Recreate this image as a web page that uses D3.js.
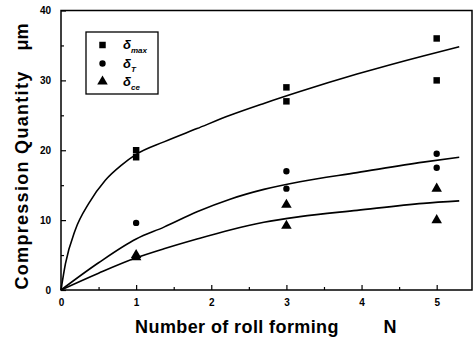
<!DOCTYPE html>
<html>
<head>
<meta charset="utf-8">
<script src="https://cdn.jsdelivr.net/npm/d3@7"></script>
<style>
  body { margin: 0; background: #fff; }
  text { font-family: "Liberation Sans", Arial, sans-serif; font-weight: bold; fill: #000; }
</style>
</head>
<body>
<svg id="chart" width="474" height="341"></svg>
<script>
// measured points
const maxPts = [[1, 20], [1, 19], [3, 29], [3, 27], [5, 36], [5, 30]];
const tPts = [[1, 9.6], [3, 17], [3, 14.5], [5, 19.5], [5, 17.5]];
const cePts = [[1, 5], [1, 4.7], [3, 12.2], [3, 9.2], [5, 14.5], [5, 10]];

// fitted curves
const maxFit = [[0, 0], [0.06, 3.8], [0.19, 8.6], [0.37, 12.4], [0.59, 15.7], [0.81, 17.9], [1, 19.4],
  [1.37, 21.2], [1.81, 23.1], [2.25, 25], [2.7, 26.7], [3.18, 28.4], [3.94, 30.9], [4.82, 33.5], [5.3, 34.8]];
const tFit = [[0, 0], [0.5, 3.9], [1, 7.3], [1.37, 9.0], [1.81, 11.2], [2.25, 13.0], [2.7, 14.4],
  [3.18, 15.5], [3.94, 16.8], [4.82, 18.3], [5.3, 19.0]];
const ceFit = [[0, 0], [0.5, 2.4], [1, 4.6], [1.37, 5.9], [1.81, 7.3], [2.25, 8.6], [2.7, 9.7],
  [3.18, 10.5], [3.94, 11.4], [4.82, 12.4], [5.3, 12.75]];

const xTicks = [0, 1, 2, 3, 4, 5];
const yTicks = [0, 10, 20, 30, 40];

const svg = d3.select('#chart');
const m = { left: 61, right: 472, top: 10.5, bottom: 290 };

const x = d3.scaleLinear().domain([0, 5.47]).range([m.left, m.right]);
const y = d3.scaleLinear().domain([0, 40]).range([m.bottom, m.top]);

// frame
svg.append('rect')
  .attr('x', m.left).attr('y', m.top)
  .attr('width', m.right - m.left).attr('height', m.bottom - m.top)
  .attr('fill', 'none').attr('stroke', '#000').attr('stroke-width', 1.5);

// axes, ticks inward
svg.append('g').attr('transform', `translate(0,${m.bottom})`)
  .call(d3.axisBottom(x).tickValues(xTicks).tickSize(-5).tickPadding(9).tickFormat(d3.format('d')));
svg.append('g').attr('transform', `translate(0,${m.bottom})`)
  .call(d3.axisBottom(x).tickValues([0.5, 1.5, 2.5, 3.5, 4.5]).tickSize(-3).tickFormat(''));
svg.append('g').attr('transform', `translate(${m.left},0)`)
  .call(d3.axisLeft(y).tickValues(yTicks).tickSize(-5).tickPadding(10).tickFormat(d3.format('d')));
svg.append('g').attr('transform', `translate(${m.left},0)`)
  .call(d3.axisLeft(y).tickValues([5, 15, 25, 35]).tickSize(-3).tickFormat(''));

svg.selectAll('.domain').remove();
svg.selectAll('.tick line').attr('stroke', '#000').attr('stroke-width', 1.2);
svg.selectAll('.tick text').style('font-size', '10px');

// axis titles
svg.append('text')
  .attr('x', 237).attr('y', 333)
  .attr('text-anchor', 'middle')
  .style('font-size', '18px')
  .style('letter-spacing', '0.4px')
  .text('Number of roll forming');
svg.append('text')
  .attr('x', 390).attr('y', 333)
  .attr('text-anchor', 'middle')
  .style('font-size', '18px')
  .text('N');
svg.append('text')
  .attr('transform', 'translate(28,180) rotate(-90)')
  .attr('text-anchor', 'middle')
  .style('font-size', '18px')
  .style('letter-spacing', '1.3px')
  .text('Compression Quantity');
svg.append('text')
  .attr('transform', 'translate(28,37) rotate(-90)')
  .attr('text-anchor', 'middle')
  .style('font-size', '18px')
  .text('μm');

// curves
const line = d3.line().x(d => x(d[0])).y(d => y(d[1])).curve(d3.curveMonotoneX);
[maxFit, tFit, ceFit].forEach(fit => {
  svg.append('path').datum(fit)
    .attr('d', line)
    .attr('fill', 'none').attr('stroke', '#000').attr('stroke-width', 1.6);
});

// markers
const sq = d3.symbol().type(d3.symbolSquare).size(42);
const ci = d3.symbol().type(d3.symbolCircle).size(32);
const tr = d3.symbol().type(d3.symbolTriangle).size(48);

function drawPts(pts, sym) {
  svg.append('g').selectAll('path').data(pts).join('path')
    .attr('transform', d => `translate(${x(d[0])},${y(d[1])})`)
    .attr('d', sym).attr('fill', '#000');
}
drawPts(maxPts, sq);
drawPts(tPts, ci);
drawPts(cePts, tr);

// legend
const lg = svg.append('g');
lg.append('rect').attr('x', 86).attr('y', 32).attr('width', 72).attr('height', 62)
  .attr('fill', '#fff').attr('stroke', '#000').attr('stroke-width', 1.3);
const legendItems = [
  { sym: sq, sub: 'max', y: 45 },
  { sym: ci, sub: 'T', y: 63.5 },
  { sym: tr, sub: 'ce', y: 81.5 }
];
legendItems.forEach(it => {
  lg.append('path').attr('transform', `translate(102.5,${it.y})`).attr('d', it.sym).attr('fill', '#000');
  const t = lg.append('text').attr('x', 123).attr('y', it.y + 4)
    .style('font-size', '13px').style('font-style', 'italic');
  t.append('tspan').text('δ');
  t.append('tspan').attr('dy', 4).style('font-size', '8px').text(it.sub);
});
</script>
</body>
</html>
